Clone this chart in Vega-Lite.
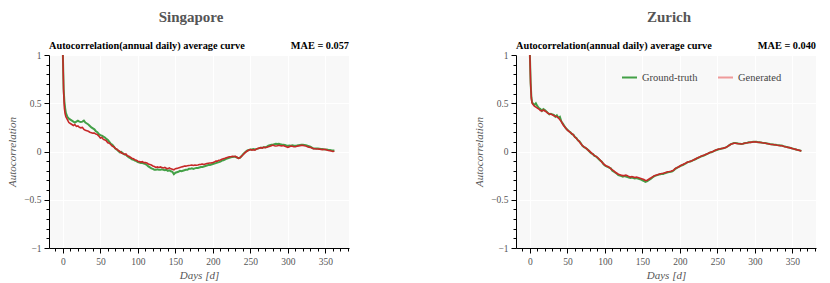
{
"$schema": "https://vega.github.io/schema/vega-lite/v6.json",
"padding": {"left": 6, "top": 10, "right": 5, "bottom": 5},
"config": {
 "font": "Liberation Serif",
 "view": {"fill": "#f8f8f8", "stroke": null},
 "title": {"fontSize": 15, "fontWeight": "bold", "color": "#555555", "offset": 16, "font": "Liberation Serif"},
 "axis": {"domainColor": "#000000", "tickColor": "#000000", "labelColor": "#555555", "labelFontSize": 9.5, "labelFont": "Liberation Serif", "titleFont": "Liberation Serif", "titleColor": "#555555", "titleFontSize": 11, "titleFontStyle": "italic", "titleFontWeight": "normal", "gridColor": "#ffffff", "gridWidth": 1, "labelPadding": 3, "labelOverlap": false, "labelFlush": false, "labelBound": false},
 "legend": {"labelFont": "Liberation Serif"}
},
"spacing": 124,
"resolve": {"scale": {"color": "independent"}},
"data": {"values": [
{"c":"S","d":0,"g":1,"r":1},{"c":"S","d":1,"g":0.65,"r":0.62},{"c":"S","d":2,"g":0.52,"r":0.45},{"c":"S","d":3,"g":0.45,"r":0.39},{"c":"S","d":4,"g":0.4,"r":0.36},
{"c":"S","d":6,"g":0.36,"r":0.33},{"c":"S","d":8,"g":0.34,"r":0.3},{"c":"S","d":10,"g":0.33,"r":0.29},{"c":"S","d":12,"g":0.32,"r":0.28},{"c":"S","d":14,"g":0.31,"r":0.27},
{"c":"S","d":16,"g":0.3,"r":0.28},{"c":"S","d":18,"g":0.31,"r":0.26},{"c":"S","d":20,"g":0.32,"r":0.265},{"c":"S","d":22,"g":0.31,"r":0.25},{"c":"S","d":24,"g":0.305,"r":0.245},
{"c":"S","d":26,"g":0.31,"r":0.25},{"c":"S","d":28,"g":0.32,"r":0.23},{"c":"S","d":30,"g":0.3,"r":0.22},{"c":"S","d":32,"g":0.29,"r":0.215},{"c":"S","d":34,"g":0.28,"r":0.21},
{"c":"S","d":36,"g":0.265,"r":0.2},{"c":"S","d":38,"g":0.25,"r":0.195},{"c":"S","d":40,"g":0.24,"r":0.19},{"c":"S","d":42,"g":0.23,"r":0.19},{"c":"S","d":44,"g":0.21,"r":0.18},
{"c":"S","d":46,"g":0.2,"r":0.175},{"c":"S","d":48,"g":0.18,"r":0.16},{"c":"S","d":50,"g":0.17,"r":0.14},{"c":"S","d":52,"g":0.165,"r":0.145},{"c":"S","d":54,"g":0.155,"r":0.125},
{"c":"S","d":56,"g":0.145,"r":0.12},{"c":"S","d":58,"g":0.13,"r":0.11},{"c":"S","d":60,"g":0.12,"r":0.09},{"c":"S","d":62,"g":0.1,"r":0.085},{"c":"S","d":64,"g":0.08,"r":0.07},
{"c":"S","d":66,"g":0.07,"r":0.055},{"c":"S","d":68,"g":0.05,"r":0.05},{"c":"S","d":70,"g":0.03,"r":0.03},{"c":"S","d":72,"g":0.02,"r":0.025},{"c":"S","d":74,"g":0.005,"r":0.01},
{"c":"S","d":76,"g":-0.01,"r":0.0},{"c":"S","d":78,"g":-0.005,"r":-0.015},{"c":"S","d":80,"g":-0.02,"r":-0.02},{"c":"S","d":82,"g":-0.03,"r":-0.03},{"c":"S","d":84,"g":-0.035,"r":-0.025},
{"c":"S","d":86,"g":-0.05,"r":-0.045},{"c":"S","d":88,"g":-0.06,"r":-0.05},{"c":"S","d":90,"g":-0.07,"r":-0.06},{"c":"S","d":92,"g":-0.08,"r":-0.07},{"c":"S","d":94,"g":-0.085,"r":-0.075},
{"c":"S","d":96,"g":-0.095,"r":-0.085},{"c":"S","d":98,"g":-0.1,"r":-0.09},{"c":"S","d":100,"g":-0.11,"r":-0.1},{"c":"S","d":102,"g":-0.115,"r":-0.105},{"c":"S","d":104,"g":-0.12,"r":-0.11},
{"c":"S","d":106,"g":-0.12,"r":-0.105},{"c":"S","d":108,"g":-0.125,"r":-0.115},{"c":"S","d":110,"g":-0.13,"r":-0.115},{"c":"S","d":112,"g":-0.14,"r":-0.12},{"c":"S","d":114,"g":-0.155,"r":-0.13},
{"c":"S","d":116,"g":-0.165,"r":-0.135},{"c":"S","d":118,"g":-0.175,"r":-0.14},{"c":"S","d":120,"g":-0.18,"r":-0.15},{"c":"S","d":122,"g":-0.19,"r":-0.155},{"c":"S","d":124,"g":-0.19,"r":-0.165},
{"c":"S","d":126,"g":-0.185,"r":-0.16},{"c":"S","d":128,"g":-0.19,"r":-0.165},{"c":"S","d":130,"g":-0.19,"r":-0.16},{"c":"S","d":132,"g":-0.185,"r":-0.165},{"c":"S","d":134,"g":-0.19,"r":-0.17},
{"c":"S","d":136,"g":-0.195,"r":-0.165},{"c":"S","d":138,"g":-0.19,"r":-0.175},{"c":"S","d":140,"g":-0.2,"r":-0.178},{"c":"S","d":142,"g":-0.195,"r":-0.17},{"c":"S","d":144,"g":-0.205,"r":-0.18},
{"c":"S","d":146,"g":-0.21,"r":-0.185},{"c":"S","d":148,"g":-0.235,"r":-0.19},{"c":"S","d":150,"g":-0.22,"r":-0.178},{"c":"S","d":152,"g":-0.215,"r":-0.175},{"c":"S","d":154,"g":-0.21,"r":-0.17},
{"c":"S","d":156,"g":-0.2,"r":-0.165},{"c":"S","d":158,"g":-0.205,"r":-0.16},{"c":"S","d":160,"g":-0.2,"r":-0.157},{"c":"S","d":162,"g":-0.195,"r":-0.15},{"c":"S","d":164,"g":-0.19,"r":-0.152},
{"c":"S","d":166,"g":-0.19,"r":-0.148},{"c":"S","d":168,"g":-0.18,"r":-0.145},{"c":"S","d":170,"g":-0.18,"r":-0.143},{"c":"S","d":172,"g":-0.175,"r":-0.14},{"c":"S","d":174,"g":-0.18,"r":-0.145},
{"c":"S","d":176,"g":-0.175,"r":-0.14},{"c":"S","d":178,"g":-0.17,"r":-0.142},{"c":"S","d":180,"g":-0.17,"r":-0.14},{"c":"S","d":182,"g":-0.165,"r":-0.135},{"c":"S","d":184,"g":-0.16,"r":-0.133},
{"c":"S","d":186,"g":-0.16,"r":-0.13},{"c":"S","d":188,"g":-0.155,"r":-0.135},{"c":"S","d":190,"g":-0.15,"r":-0.13},{"c":"S","d":192,"g":-0.145,"r":-0.125},{"c":"S","d":194,"g":-0.14,"r":-0.122},
{"c":"S","d":196,"g":-0.14,"r":-0.12},{"c":"S","d":198,"g":-0.135,"r":-0.118},{"c":"S","d":200,"g":-0.13,"r":-0.115},{"c":"S","d":202,"g":-0.125,"r":-0.11},{"c":"S","d":204,"g":-0.12,"r":-0.1},
{"c":"S","d":206,"g":-0.115,"r":-0.1},{"c":"S","d":208,"g":-0.11,"r":-0.09},{"c":"S","d":210,"g":-0.105,"r":-0.088},{"c":"S","d":212,"g":-0.095,"r":-0.08},{"c":"S","d":214,"g":-0.09,"r":-0.074},
{"c":"S","d":216,"g":-0.085,"r":-0.07},{"c":"S","d":218,"g":-0.075,"r":-0.065},{"c":"S","d":220,"g":-0.07,"r":-0.06},{"c":"S","d":222,"g":-0.065,"r":-0.055},{"c":"S","d":224,"g":-0.06,"r":-0.054},
{"c":"S","d":226,"g":-0.058,"r":-0.05},{"c":"S","d":228,"g":-0.055,"r":-0.052},{"c":"S","d":230,"g":-0.055,"r":-0.05},{"c":"S","d":232,"g":-0.062,"r":-0.06},{"c":"S","d":234,"g":-0.07,"r":-0.07},
{"c":"S","d":236,"g":-0.065,"r":-0.065},{"c":"S","d":238,"g":-0.05,"r":-0.05},{"c":"S","d":240,"g":-0.03,"r":-0.036},{"c":"S","d":242,"g":-0.015,"r":-0.02},{"c":"S","d":244,"g":0.0,"r":-0.005},
{"c":"S","d":246,"g":0.01,"r":0.005},{"c":"S","d":248,"g":0.015,"r":0.015},{"c":"S","d":250,"g":0.02,"r":0.02},{"c":"S","d":252,"g":0.02,"r":0.015},{"c":"S","d":254,"g":0.025,"r":0.018},
{"c":"S","d":256,"g":0.02,"r":0.015},{"c":"S","d":258,"g":0.025,"r":0.025},{"c":"S","d":260,"g":0.03,"r":0.03},{"c":"S","d":262,"g":0.035,"r":0.035},{"c":"S","d":264,"g":0.04,"r":0.04},
{"c":"S","d":266,"g":0.04,"r":0.035},{"c":"S","d":268,"g":0.045,"r":0.045},{"c":"S","d":270,"g":0.045,"r":0.04},{"c":"S","d":272,"g":0.05,"r":0.045},{"c":"S","d":274,"g":0.06,"r":0.05},
{"c":"S","d":276,"g":0.065,"r":0.055},{"c":"S","d":278,"g":0.07,"r":0.06},{"c":"S","d":280,"g":0.07,"r":0.067},{"c":"S","d":282,"g":0.075,"r":0.06},{"c":"S","d":284,"g":0.08,"r":0.057},
{"c":"S","d":286,"g":0.078,"r":0.06},{"c":"S","d":288,"g":0.08,"r":0.065},{"c":"S","d":290,"g":0.075,"r":0.06},{"c":"S","d":292,"g":0.072,"r":0.058},{"c":"S","d":294,"g":0.07,"r":0.062},
{"c":"S","d":296,"g":0.068,"r":0.055},{"c":"S","d":298,"g":0.063,"r":0.05},{"c":"S","d":300,"g":0.06,"r":0.043},{"c":"S","d":302,"g":0.062,"r":0.05},{"c":"S","d":304,"g":0.06,"r":0.057},
{"c":"S","d":306,"g":0.065,"r":0.055},{"c":"S","d":308,"g":0.06,"r":0.05},{"c":"S","d":310,"g":0.06,"r":0.05},{"c":"S","d":312,"g":0.062,"r":0.055},{"c":"S","d":314,"g":0.065,"r":0.058},
{"c":"S","d":316,"g":0.068,"r":0.06},{"c":"S","d":318,"g":0.07,"r":0.063},{"c":"S","d":320,"g":0.07,"r":0.063},{"c":"S","d":322,"g":0.068,"r":0.06},{"c":"S","d":324,"g":0.065,"r":0.058},
{"c":"S","d":326,"g":0.06,"r":0.05},{"c":"S","d":328,"g":0.055,"r":0.045},{"c":"S","d":330,"g":0.05,"r":0.043},{"c":"S","d":332,"g":0.04,"r":0.035},{"c":"S","d":334,"g":0.03,"r":0.03},
{"c":"S","d":336,"g":0.03,"r":0.028},{"c":"S","d":338,"g":0.032,"r":0.026},{"c":"S","d":340,"g":0.03,"r":0.026},{"c":"S","d":342,"g":0.028,"r":0.025},{"c":"S","d":344,"g":0.025,"r":0.022},
{"c":"S","d":346,"g":0.025,"r":0.02},{"c":"S","d":348,"g":0.022,"r":0.022},{"c":"S","d":350,"g":0.02,"r":0.02},{"c":"S","d":352,"g":0.02,"r":0.015},{"c":"S","d":354,"g":0.015,"r":0.01},
{"c":"S","d":356,"g":0.015,"r":0.008},{"c":"S","d":358,"g":0.012,"r":0.005},{"c":"S","d":360,"g":0.01,"r":0.0},{"c":"S","d":362,"g":0.01,"r":0.002},
{"c":"Z","d":0,"g":1,"r":1},{"c":"Z","d":1,"g":0.72,"r":0.7},{"c":"Z","d":2,"g":0.56,"r":0.55},{"c":"Z","d":3,"g":0.51,"r":0.5},{"c":"Z","d":4,"g":0.5,"r":0.49},
{"c":"Z","d":6,"g":0.48,"r":0.47},{"c":"Z","d":8,"g":0.5,"r":0.46},{"c":"Z","d":10,"g":0.47,"r":0.45},{"c":"Z","d":12,"g":0.45,"r":0.44},{"c":"Z","d":14,"g":0.44,"r":0.425},
{"c":"Z","d":16,"g":0.42,"r":0.42},{"c":"Z","d":18,"g":0.44,"r":0.43},{"c":"Z","d":20,"g":0.43,"r":0.42},{"c":"Z","d":22,"g":0.415,"r":0.41},{"c":"Z","d":24,"g":0.4,"r":0.395},
{"c":"Z","d":26,"g":0.385,"r":0.39},{"c":"Z","d":28,"g":0.39,"r":0.385},{"c":"Z","d":30,"g":0.385,"r":0.38},{"c":"Z","d":32,"g":0.38,"r":0.37},{"c":"Z","d":34,"g":0.36,"r":0.365},
{"c":"Z","d":36,"g":0.375,"r":0.36},{"c":"Z","d":38,"g":0.35,"r":0.35},{"c":"Z","d":40,"g":0.36,"r":0.33},{"c":"Z","d":42,"g":0.31,"r":0.31},{"c":"Z","d":44,"g":0.29,"r":0.28},
{"c":"Z","d":46,"g":0.265,"r":0.26},{"c":"Z","d":48,"g":0.24,"r":0.24},{"c":"Z","d":50,"g":0.225,"r":0.22},{"c":"Z","d":52,"g":0.21,"r":0.21},{"c":"Z","d":54,"g":0.2,"r":0.195},
{"c":"Z","d":56,"g":0.18,"r":0.185},{"c":"Z","d":58,"g":0.175,"r":0.17},{"c":"Z","d":60,"g":0.15,"r":0.15},{"c":"Z","d":62,"g":0.14,"r":0.135},{"c":"Z","d":64,"g":0.115,"r":0.12},
{"c":"Z","d":66,"g":0.105,"r":0.1},{"c":"Z","d":68,"g":0.085,"r":0.08},{"c":"Z","d":70,"g":0.06,"r":0.06},{"c":"Z","d":72,"g":0.045,"r":0.05},{"c":"Z","d":74,"g":0.04,"r":0.035},
{"c":"Z","d":76,"g":0.025,"r":0.03},{"c":"Z","d":78,"g":0.015,"r":0.01},{"c":"Z","d":80,"g":-0.005,"r":0.0},{"c":"Z","d":82,"g":-0.02,"r":-0.015},{"c":"Z","d":84,"g":-0.025,"r":-0.03},
{"c":"Z","d":86,"g":-0.045,"r":-0.04},{"c":"Z","d":88,"g":-0.05,"r":-0.05},{"c":"Z","d":90,"g":-0.065,"r":-0.06},{"c":"Z","d":92,"g":-0.08,"r":-0.075},{"c":"Z","d":94,"g":-0.095,"r":-0.09},
{"c":"Z","d":96,"g":-0.105,"r":-0.11},{"c":"Z","d":98,"g":-0.13,"r":-0.125},{"c":"Z","d":100,"g":-0.145,"r":-0.14},{"c":"Z","d":102,"g":-0.155,"r":-0.15},{"c":"Z","d":104,"g":-0.16,"r":-0.155},
{"c":"Z","d":106,"g":-0.17,"r":-0.165},{"c":"Z","d":108,"g":-0.175,"r":-0.18},{"c":"Z","d":110,"g":-0.2,"r":-0.19},{"c":"Z","d":112,"g":-0.21,"r":-0.2},{"c":"Z","d":114,"g":-0.22,"r":-0.215},
{"c":"Z","d":116,"g":-0.23,"r":-0.225},{"c":"Z","d":118,"g":-0.245,"r":-0.235},{"c":"Z","d":120,"g":-0.25,"r":-0.24},{"c":"Z","d":122,"g":-0.255,"r":-0.245},{"c":"Z","d":124,"g":-0.26,"r":-0.25},
{"c":"Z","d":126,"g":-0.255,"r":-0.25},{"c":"Z","d":128,"g":-0.26,"r":-0.245},{"c":"Z","d":130,"g":-0.265,"r":-0.25},{"c":"Z","d":132,"g":-0.27,"r":-0.26},{"c":"Z","d":134,"g":-0.275,"r":-0.265},
{"c":"Z","d":136,"g":-0.27,"r":-0.26},{"c":"Z","d":138,"g":-0.275,"r":-0.265},{"c":"Z","d":140,"g":-0.28,"r":-0.27},{"c":"Z","d":142,"g":-0.275,"r":-0.265},{"c":"Z","d":144,"g":-0.28,"r":-0.27},
{"c":"Z","d":146,"g":-0.285,"r":-0.275},{"c":"Z","d":148,"g":-0.29,"r":-0.28},{"c":"Z","d":150,"g":-0.3,"r":-0.285},{"c":"Z","d":152,"g":-0.305,"r":-0.29},{"c":"Z","d":154,"g":-0.315,"r":-0.3},
{"c":"Z","d":156,"g":-0.31,"r":-0.3},{"c":"Z","d":158,"g":-0.3,"r":-0.29},{"c":"Z","d":160,"g":-0.29,"r":-0.28},{"c":"Z","d":162,"g":-0.28,"r":-0.27},{"c":"Z","d":164,"g":-0.265,"r":-0.26},
{"c":"Z","d":166,"g":-0.255,"r":-0.25},{"c":"Z","d":168,"g":-0.25,"r":-0.245},{"c":"Z","d":170,"g":-0.245,"r":-0.24},{"c":"Z","d":172,"g":-0.24,"r":-0.235},{"c":"Z","d":174,"g":-0.235,"r":-0.23},
{"c":"Z","d":176,"g":-0.23,"r":-0.228},{"c":"Z","d":178,"g":-0.232,"r":-0.225},{"c":"Z","d":180,"g":-0.225,"r":-0.22},{"c":"Z","d":182,"g":-0.22,"r":-0.215},{"c":"Z","d":184,"g":-0.215,"r":-0.21},
{"c":"Z","d":186,"g":-0.212,"r":-0.208},{"c":"Z","d":188,"g":-0.21,"r":-0.205},{"c":"Z","d":190,"g":-0.205,"r":-0.2},{"c":"Z","d":192,"g":-0.195,"r":-0.19},{"c":"Z","d":194,"g":-0.18,"r":-0.175},
{"c":"Z","d":196,"g":-0.17,"r":-0.168},{"c":"Z","d":198,"g":-0.162,"r":-0.16},{"c":"Z","d":200,"g":-0.155,"r":-0.15},{"c":"Z","d":202,"g":-0.145,"r":-0.142},{"c":"Z","d":204,"g":-0.14,"r":-0.135},
{"c":"Z","d":206,"g":-0.13,"r":-0.128},{"c":"Z","d":208,"g":-0.123,"r":-0.12},{"c":"Z","d":210,"g":-0.113,"r":-0.11},{"c":"Z","d":212,"g":-0.108,"r":-0.106},{"c":"Z","d":214,"g":-0.103,"r":-0.1},
{"c":"Z","d":216,"g":-0.097,"r":-0.095},{"c":"Z","d":218,"g":-0.09,"r":-0.088},{"c":"Z","d":220,"g":-0.083,"r":-0.08},{"c":"Z","d":222,"g":-0.075,"r":-0.072},{"c":"Z","d":224,"g":-0.067,"r":-0.065},
{"c":"Z","d":226,"g":-0.06,"r":-0.058},{"c":"Z","d":228,"g":-0.053,"r":-0.05},{"c":"Z","d":230,"g":-0.047,"r":-0.045},{"c":"Z","d":232,"g":-0.042,"r":-0.04},{"c":"Z","d":234,"g":-0.035,"r":-0.032},
{"c":"Z","d":236,"g":-0.027,"r":-0.025},{"c":"Z","d":238,"g":-0.02,"r":-0.018},{"c":"Z","d":240,"g":-0.012,"r":-0.01},{"c":"Z","d":242,"g":-0.007,"r":-0.005},{"c":"Z","d":244,"g":-0.002,"r":0.0},
{"c":"Z","d":246,"g":0.006,"r":0.008},{"c":"Z","d":248,"g":0.013,"r":0.015},{"c":"Z","d":250,"g":0.018,"r":0.02},{"c":"Z","d":252,"g":0.023,"r":0.025},{"c":"Z","d":254,"g":0.027,"r":0.028},
{"c":"Z","d":256,"g":0.03,"r":0.032},{"c":"Z","d":258,"g":0.034,"r":0.035},{"c":"Z","d":260,"g":0.039,"r":0.04},{"c":"Z","d":262,"g":0.045,"r":0.045},{"c":"Z","d":264,"g":0.054,"r":0.055},
{"c":"Z","d":266,"g":0.066,"r":0.065},{"c":"Z","d":268,"g":0.076,"r":0.075},{"c":"Z","d":270,"g":0.082,"r":0.08},{"c":"Z","d":272,"g":0.088,"r":0.085},{"c":"Z","d":274,"g":0.087,"r":0.085},
{"c":"Z","d":276,"g":0.085,"r":0.083},{"c":"Z","d":278,"g":0.082,"r":0.08},{"c":"Z","d":280,"g":0.081,"r":0.08},{"c":"Z","d":282,"g":0.079,"r":0.078},{"c":"Z","d":284,"g":0.081,"r":0.08},
{"c":"Z","d":286,"g":0.086,"r":0.085},{"c":"Z","d":288,"g":0.089,"r":0.088},{"c":"Z","d":290,"g":0.091,"r":0.09},{"c":"Z","d":292,"g":0.095,"r":0.093},{"c":"Z","d":294,"g":0.097,"r":0.095},
{"c":"Z","d":296,"g":0.098,"r":0.097},{"c":"Z","d":298,"g":0.1,"r":0.098},{"c":"Z","d":300,"g":0.102,"r":0.1},{"c":"Z","d":302,"g":0.1,"r":0.098},{"c":"Z","d":304,"g":0.097,"r":0.096},
{"c":"Z","d":306,"g":0.096,"r":0.095},{"c":"Z","d":308,"g":0.094,"r":0.093},{"c":"Z","d":310,"g":0.091,"r":0.09},{"c":"Z","d":312,"g":0.089,"r":0.088},{"c":"Z","d":314,"g":0.087,"r":0.086},
{"c":"Z","d":316,"g":0.084,"r":0.083},{"c":"Z","d":318,"g":0.081,"r":0.08},{"c":"Z","d":320,"g":0.077,"r":0.075},{"c":"Z","d":322,"g":0.074,"r":0.073},{"c":"Z","d":324,"g":0.073,"r":0.072},
{"c":"Z","d":326,"g":0.071,"r":0.07},{"c":"Z","d":328,"g":0.069,"r":0.068},{"c":"Z","d":330,"g":0.066,"r":0.065},{"c":"Z","d":332,"g":0.064,"r":0.063},{"c":"Z","d":334,"g":0.062,"r":0.061},
{"c":"Z","d":336,"g":0.061,"r":0.06},{"c":"Z","d":338,"g":0.056,"r":0.055},{"c":"Z","d":340,"g":0.051,"r":0.05},{"c":"Z","d":342,"g":0.048,"r":0.047},{"c":"Z","d":344,"g":0.044,"r":0.043},
{"c":"Z","d":346,"g":0.04,"r":0.04},{"c":"Z","d":348,"g":0.036,"r":0.035},{"c":"Z","d":350,"g":0.031,"r":0.03},{"c":"Z","d":352,"g":0.027,"r":0.026},{"c":"Z","d":354,"g":0.023,"r":0.022},
{"c":"Z","d":356,"g":0.018,"r":0.018},{"c":"Z","d":358,"g":0.014,"r":0.014},{"c":"Z","d":360,"g":0.01,"r":0.01},{"c":"Z","d":362,"g":0.006,"r":0.005}
]},
"hconcat": [
{
 "width": 300, "height": 193,
 "title": {"text": "Singapore", "dx": -8},
 "layer": [
  {"transform": [{"filter": "datum.c === 'S'"}],
   "mark": {"type": "line", "color": "#43a047", "strokeWidth": 2},
   "encoding": {
    "x": {"field": "d", "type": "quantitative", "scale": {"domain": [-18.5, 381.5], "nice": false, "zero": false},
      "axis": {"title": "Days [d]", "values": [-10,0,10,20,30,40,50,60,70,80,90,100,110,120,130,140,150,160,170,180,190,200,210,220,230,240,250,260,270,280,290,300,310,320,330,340,350,360,370,380],
        "tickCount": 200, "labelOverlap": false,
        "format": "d", "labelExpr": "datum.value % 50 === 0 ? datum.label : ''",
        "tickSize": {"condition": {"test": "datum.value % 50 === 0", "value": 5}, "value": 3},
        "gridOpacity": {"condition": {"test": "datum.value % 50 === 0", "value": 1}, "value": 0},
        "titlePadding": 4}},
    "y": {"field": "g", "type": "quantitative", "scale": {"domain": [-1, 1], "nice": false},
      "axis": {"title": "Autocorrelation", "values": [-1,-0.9,-0.8,-0.7,-0.6,-0.5,-0.4,-0.3,-0.2,-0.1,0,0.1,0.2,0.3,0.4,0.5,0.6,0.7,0.8,0.9,1],
        "tickCount": 200, "labelOverlap": false,
        "format": ".1~f", "labelExpr": "abs(datum.value*2 - round(datum.value*2)) < 0.001 ? datum.label : ''",
        "tickSize": {"condition": {"test": "abs(datum.value*2 - round(datum.value*2)) < 0.001", "value": 5}, "value": 3},
        "gridOpacity": {"condition": {"test": "abs(datum.value*2 - round(datum.value*2)) < 0.001", "value": 1}, "value": 0},
        "titlePadding": 6}}
   }},
  {"transform": [{"filter": "datum.c === 'S'"}],
   "mark": {"type": "line", "color": "#c62828", "strokeWidth": 1.6},
   "encoding": {"x": {"field": "d", "type": "quantitative"}, "y": {"field": "r", "type": "quantitative"}}},
  {"data": {"values": [{}]},
   "mark": {"type": "text", "align": "left", "baseline": "alphabetic", "dy": -6, "fontSize": 10.3, "fontWeight": "bold", "color": "#000000"},
   "encoding": {"x": {"datum": -18.5, "type": "quantitative"}, "y": {"datum": 1, "type": "quantitative"}, "text": {"value": "Autocorrelation(annual daily) average curve"}}},
  {"data": {"values": [{}]},
   "mark": {"type": "text", "align": "right", "baseline": "alphabetic", "dy": -6, "fontSize": 10.3, "fontWeight": "bold", "color": "#000000"},
   "encoding": {"x": {"datum": 381.5, "type": "quantitative"}, "y": {"datum": 1, "type": "quantitative"}, "text": {"value": "MAE = 0.057"}}}
 ]
},
{
 "width": 300, "height": 193,
 "title": {"text": "Zurich", "dx": 3},
 "layer": [
  {"transform": [{"filter": "datum.c === 'Z'"}],
   "mark": {"type": "line", "color": "#43a047", "strokeWidth": 2},
   "encoding": {
    "x": {"field": "d", "type": "quantitative", "scale": {"domain": [-18.5, 381.5], "nice": false, "zero": false},
      "axis": {"title": "Days [d]", "values": [-10,0,10,20,30,40,50,60,70,80,90,100,110,120,130,140,150,160,170,180,190,200,210,220,230,240,250,260,270,280,290,300,310,320,330,340,350,360,370,380],
        "tickCount": 200, "labelOverlap": false,
        "format": "d", "labelExpr": "datum.value % 50 === 0 ? datum.label : ''",
        "tickSize": {"condition": {"test": "datum.value % 50 === 0", "value": 5}, "value": 3},
        "gridOpacity": {"condition": {"test": "datum.value % 50 === 0", "value": 1}, "value": 0},
        "titlePadding": 4}},
    "y": {"field": "g", "type": "quantitative", "scale": {"domain": [-1, 1], "nice": false},
      "axis": {"title": "Autocorrelation", "values": [-1,-0.9,-0.8,-0.7,-0.6,-0.5,-0.4,-0.3,-0.2,-0.1,0,0.1,0.2,0.3,0.4,0.5,0.6,0.7,0.8,0.9,1],
        "tickCount": 200, "labelOverlap": false,
        "format": ".1~f", "labelExpr": "abs(datum.value*2 - round(datum.value*2)) < 0.001 ? datum.label : ''",
        "tickSize": {"condition": {"test": "abs(datum.value*2 - round(datum.value*2)) < 0.001", "value": 5}, "value": 3},
        "gridOpacity": {"condition": {"test": "abs(datum.value*2 - round(datum.value*2)) < 0.001", "value": 1}, "value": 0},
        "titlePadding": 6}}
   }},
  {"transform": [{"filter": "datum.c === 'Z'"}],
   "mark": {"type": "line", "color": "#c62828", "strokeWidth": 1.6},
   "encoding": {"x": {"field": "d", "type": "quantitative"}, "y": {"field": "r", "type": "quantitative"}}},
  {"data": {"values": [{"k": "Ground-truth"}, {"k": "Generated"}]},
   "mark": {"type": "line", "strokeWidth": 2},
   "encoding": {"x": {"datum": 0, "type": "quantitative"}, "y": {"datum": 1, "type": "quantitative"},
     "color": {"field": "k", "type": "nominal",
      "scale": {"domain": ["Ground-truth", "Generated"], "range": ["#43a047", "#ef9a9a"]},
      "legend": {"orient": "none", "legendX": 105, "legendY": 14, "direction": "horizontal", "title": null,
        "symbolType": "stroke", "symbolSize": 225, "symbolStrokeWidth": 2, "labelFontSize": 10.5, "labelColor": "#444444", "labelFont": "Liberation Serif",
        "columnPadding": 16, "labelOffset": 4}}}},
  {"data": {"values": [{}]},
   "mark": {"type": "text", "align": "left", "baseline": "alphabetic", "dy": -6, "fontSize": 10.3, "fontWeight": "bold", "color": "#000000"},
   "encoding": {"x": {"datum": -18.5, "type": "quantitative"}, "y": {"datum": 1, "type": "quantitative"}, "text": {"value": "Autocorrelation(annual daily) average curve"}}},
  {"data": {"values": [{}]},
   "mark": {"type": "text", "align": "right", "baseline": "alphabetic", "dy": -6, "fontSize": 10.3, "fontWeight": "bold", "color": "#000000"},
   "encoding": {"x": {"datum": 381.5, "type": "quantitative"}, "y": {"datum": 1, "type": "quantitative"}, "text": {"value": "MAE = 0.040"}}}
 ]
}
]
}
